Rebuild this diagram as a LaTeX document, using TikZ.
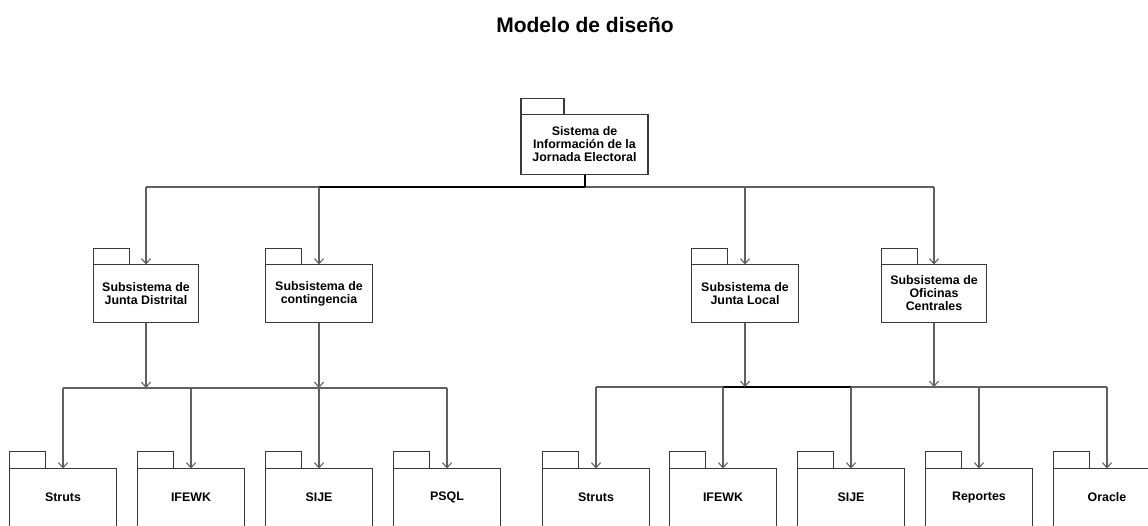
\documentclass[tikz,border=0pt]{standalone}
\usepackage{fontspec}
\setmainfont{Liberation Sans}
\usetikzlibrary{arrows.meta}
\definecolor{boxc}{HTML}{3A3A3A}
\definecolor{linec}{HTML}{606060}
\tikzset{
  pkg/.style={draw=boxc, line width=1.1pt, fill=white, align=center,
    inner sep=0pt, outer sep=0pt, font=\bfseries\fontsize{12.4}{13}\selectfont},
  midpkg/.style={pkg, minimum width=105pt, minimum height=58pt},
  lowpkg/.style={pkg, minimum width=107pt, minimum height=58pt},
  tabbox/.style={draw=boxc, line width=1.1pt},
  link/.style={draw=linec, line width=1.1pt, -{Straight Barb[length=5pt,width=9pt]}},
  busline/.style={draw=linec, line width=1.1pt},
  darkbus/.style={draw=black, line width=1.5pt},
}
\begin{document}
\begin{tikzpicture}[x=1pt, y=-1pt]
  \useasboundingbox (0,0) rectangle (1148,525);
  \clip (0,0) rectangle (1148,525);

  % title
  \node[anchor=base, inner sep=0pt, font=\bfseries\fontsize{21}{24}\selectfont] (title) at (585,32) {Modelo de diseño};

  % root package
  \node[pkg, minimum width=127pt, minimum height=60pt] (sys) at (584.5,144.5)
    {Sistema de\\Información de la\\Jornada Electoral};
  \draw[tabbox] (sys.north west) rectangle ++(43,-16);

  % subsystems
  \node[midpkg] (jd)   at (146,293.5) {Subsistema de\\Junta Distrital};
  \node[midpkg, minimum width=107pt] (cont) at (319,293.5) {Subsistema de\\contingencia};
  \node[midpkg, minimum width=107pt] (jl)   at (745,293.5) {Subsistema de\\Junta Local};
  \node[midpkg] (ofc)  at (934,293.5) {Subsistema de\\Oficinas\\Centrales};
  \foreach \n in {jd,cont,jl,ofc}
    \draw[tabbox] (\n.north west) rectangle ++(36,-16);

  % components, left group
  \node[lowpkg] (struA) at (63,497.5)  {Struts};
  \node[lowpkg] (ifeA)  at (191,497.5) {IFEWK};
  \node[lowpkg] (sijeA) at (319,497.5) {SIJE};
  \node[lowpkg] (psql)  at (447,497.5) {PSQL};
  % components, right group
  \node[lowpkg] (struB) at (596,497.5)  {Struts};
  \node[lowpkg] (ifeB)  at (723,497.5)  {IFEWK};
  \node[lowpkg] (sijeB) at (851,497.5)  {SIJE};
  \node[lowpkg] (rep)   at (979,497.5)  {Reportes};
  \node[lowpkg] (ora)   at (1107,497.5) {Oracle};
  \foreach \n in {struA,ifeA,sijeA,psql,struB,ifeB,sijeB,rep,ora}
    \draw[tabbox] (\n.north west) rectangle ++(36,-17);

  % bus rails
  \coordinate (top) at (0,187);
  \coordinate (lbus) at (0,388);
  \coordinate (rbus) at (0,387);

  % root to subsystems
  \draw[busline] (jd.north |- top) -- (ofc.north |- top);
  \draw[darkbus] (cont.north |- top) -- (sys.south |- top);
  \draw[black, line width=2pt] (sys.south) -- (sys.south |- top);
  \foreach \n in {jd,cont,jl,ofc}
    \draw[link] (\n.north |- top) -- (\n.north);

  % left group
  \draw[busline] (struA.north |- lbus) -- (psql.north |- lbus);
  \draw[link] (jd.south) -- (jd.south |- lbus);
  \draw[link] (cont.south) -- (cont.south |- lbus);
  \foreach \n in {struA,ifeA,sijeA,psql}
    \draw[link] (\n.north |- lbus) -- (\n.north);

  % right group
  \draw[busline] (struB.north |- rbus) -- (ora.north |- rbus);
  \draw[darkbus] (ifeB.north |- rbus) -- (sijeB.north |- rbus);
  \draw[link] (jl.south) -- (jl.south |- rbus);
  \draw[link] (ofc.south) -- (ofc.south |- rbus);
  \foreach \n in {struB,ifeB,sijeB,rep,ora}
    \draw[link] (\n.north |- rbus) -- (\n.north);
\end{tikzpicture}
\end{document}
